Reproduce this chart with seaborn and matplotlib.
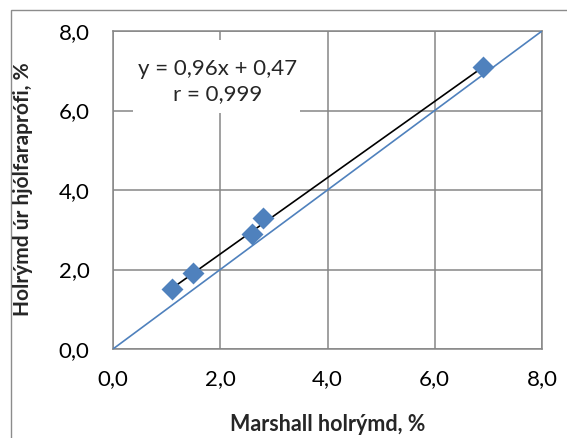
import matplotlib
matplotlib.use("Agg")
import matplotlib.pyplot as plt
from matplotlib.patches import Rectangle
import numpy as np
import pandas as pd
import seaborn as sns

# Void content measured two ways (%)
marshall = [1.1, 1.5, 2.6, 2.8, 6.9]
wheel_track = [1.5, 1.9, 2.9, 3.3, 7.1]

# Linear fit reported on the chart
slope = 0.96
intercept = 0.47
r_value = 0.999

ticks = [0.0, 2.0, 4.0, 6.0, 8.0]
tick_labels = ["0,0", "2,0", "4,0", "6,0", "8,0"]

x_title = "Marshall holrýmd, %"
y_title = "Holrýmd úr hjólfaraprófi, %"

BLUE = "#4F81BD"
GRID = "#868686"

sns.set_style("white")
plt.rcParams["font.family"] = ["Lato", "DejaVu Sans"]

df = pd.DataFrame({"x": marshall, "y": wheel_track})

fig = plt.figure(figsize=(5.67, 4.38), dpi=100)
ax = fig.add_axes([113 / 567, 1 - 349 / 438, 429 / 567, 318 / 438])

# 1:1 reference line
sns.lineplot(x=[ticks[0], ticks[-1]], y=[ticks[0], ticks[-1]], ax=ax,
             color=BLUE, linewidth=1.2, zorder=3)

# fitted trend over the data range
fx = np.array([min(marshall), max(marshall)])
sns.lineplot(x=fx, y=slope * fx + intercept, ax=ax,
             color="black", linewidth=1.2, zorder=4)

sns.scatterplot(data=df, x="x", y="y", ax=ax, marker="D", s=125,
                color=BLUE, linewidth=0, zorder=5)

ax.set_xlim(ticks[0], ticks[-1])
ax.set_ylim(ticks[0], ticks[-1])
ax.set_xticks(ticks)
ax.set_yticks(ticks)
ax.set_xticklabels(tick_labels)
ax.set_yticklabels(tick_labels)

ax.grid(True, color=GRID, linewidth=1.1, zorder=0)
ax.set_axisbelow(True)
for sp in ax.spines.values():
    sp.set_color(GRID)
    sp.set_linewidth(1.1)

ax.tick_params(axis="both", direction="out", length=5.8, width=1.1,
               color=GRID, labelsize=16, labelcolor="black")
ax.tick_params(axis="y", pad=11)
ax.tick_params(axis="x", pad=9)

ax.set_xlabel(x_title, fontsize=15.5, fontweight="bold")
ax.set_ylabel(y_title, fontsize=15, fontweight="bold")
ax.xaxis.set_label_coords(0.501, -0.205)
ax.yaxis.set_label_coords(-0.187, 0.503)

# white label box with the regression equation
ax.add_patch(Rectangle((0.37, 5.94), 3.12, 1.83, facecolor="white",
                       edgecolor="none", zorder=1.5))
eq_text = "y = {:.2f}x + {:.2f}\nr = {:.3f}".format(slope, intercept, r_value).replace(".", ",")
ax.text(1.95, 6.73, eq_text, ha="center", va="center", multialignment="center",
        fontsize=16, linespacing=1.3, zorder=6)

# chart-area border
fig.add_artist(Rectangle((11 / 567, -0.05), 1.1, 1.05 - 10 / 438,
                         transform=fig.transFigure, facecolor="none",
                         edgecolor="#8c8c8c", linewidth=1.0, zorder=-1))

fig.savefig("out.png", dpi=100)
